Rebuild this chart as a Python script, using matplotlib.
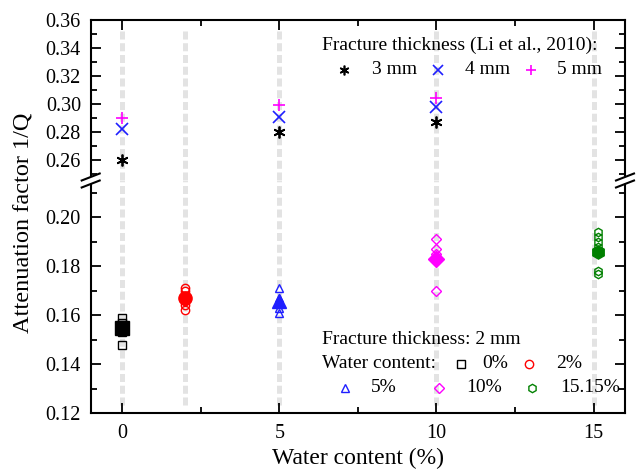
import matplotlib
matplotlib.use("Agg")
import matplotlib.pyplot as plt
from matplotlib.lines import Line2D
from matplotlib.patches import Polygon
from matplotlib.ticker import MultipleLocator
import numpy as np

plt.rcParams['font.family'] = ['Liberation Serif', 'DejaVu Serif']
plt.rcParams['mathtext.fontset'] = 'stix'

# ---------------- data ----------------
ref_x = [0, 5, 10]
ref_3mm = [0.260, 0.280, 0.287]
ref_4mm = [0.282, 0.291, 0.298]
ref_5mm = [0.290, 0.299, 0.304]

guide_x = [0, 2, 5, 10, 15]

wc_0_x = 0
wc_0 = [0.159, 0.157, 0.156, 0.153, 0.148]
wc_0_mean = 0.155
wc_2_x = 2
wc_2 = [0.171, 0.170, 0.168, 0.166, 0.164, 0.162]
wc_2_mean = 0.167
wc_5_x = 5
wc_5 = [0.171, 0.167, 0.165, 0.163, 0.161]
wc_5_mean = 0.166
wc_10_x = 10
wc_10 = [0.191, 0.187, 0.185, 0.183, 0.182, 0.170]
wc_10_mean = 0.183
wc_15_x = 15.15
wc_15 = [0.194, 0.192, 0.190, 0.188, 0.178, 0.177]
wc_15_mean = 0.186

xticks = [0, 5, 10, 15]

# ---------------- figure ----------------
W, H = 640, 476
fig = plt.figure(figsize=(6.4, 4.76), dpi=100)

def fx(px):
    return px / W

def fy(py):
    return 1 - py / H

left, right = 90.7, 625.0
top, brk, bottom = 20.0, 180.0, 413.3

ax_top = fig.add_axes([fx(left), fy(brk), fx(right - left), (brk - top) / H])
ax_bot = fig.add_axes([fx(left), fy(bottom), fx(right - left), (bottom - brk) / H])

ax_top.set_ylim(0.2457, 0.36)
ax_bot.set_ylim(0.12, 0.2152)
for ax in (ax_top, ax_bot):
    ax.set_xlim(-1.0, 16.0)
    ax.xaxis.set_major_locator(MultipleLocator(5))
    ax.xaxis.set_minor_locator(MultipleLocator(2.5))
    ax.yaxis.set_major_locator(MultipleLocator(0.02))
    ax.yaxis.set_minor_locator(MultipleLocator(0.01))
    ax.tick_params(which='both', direction='in', top=True, right=True,
                   width=1.3, labelsize=14.5)
    ax.tick_params(which='major', length=7)
    ax.tick_params(which='minor', length=4)
    ax.tick_params(axis='y', pad=7)
    for s in ax.spines.values():
        s.set_linewidth(1.5)
    ax.set_facecolor('none')

ax_top.spines['bottom'].set_visible(False)
ax_top.tick_params(which='both', bottom=False, labelbottom=False)
ax_bot.spines['top'].set_visible(False)
ax_bot.tick_params(which='both', top=False)
ax_top.yaxis.set_major_formatter(plt.FuncFormatter(lambda v, p: f"{v:.2f}"))
ax_bot.yaxis.set_major_formatter(plt.FuncFormatter(lambda v, p: f"{v:.2f}"))
ax_bot.set_xticks(xticks)
ax_bot.set_xticklabels([str(t) for t in xticks])
ax_bot.tick_params(axis='x', pad=8)

# guide dashed lines
gl = dict(color='#e3e3e3', lw=3.6, dashes=(1.6, 0.75), zorder=0, solid_capstyle='butt')
for gx in guide_x:
    ax_top.plot([gx, gx], [0.2457, 0.3545], **gl)
    ax_bot.plot([gx, gx], [0.1235, 0.2152], **gl)

# reference data
ax_top.plot(ref_x, ref_3mm, ls='none', marker=(6, 2, 0), ms=8.5, mew=1.3, color='black', zorder=3)
ax_top.plot(ref_x, ref_4mm, ls='none', marker='x', ms=8, mew=1.2, color='#1f1fff', zorder=3)
ax_top.plot(ref_x, ref_5mm, ls='none', marker='+', ms=8, mew=1.2, color='#ff00ff', zorder=3)

# measured data (hollow) and means (filled)
groups = [
    (wc_0_x, wc_0, wc_0_mean, 's', 'black'),
    (wc_2_x, wc_2, wc_2_mean, 'o', '#ff0000'),
    (wc_5_x, wc_5, wc_5_mean, '^', '#1f1fff'),
    (wc_10_x, wc_10, wc_10_mean, 'D', '#ff00ff'),
    (wc_15_x, wc_15, wc_15_mean, 'h', '#008000'),
]
for gx, vals, mean, mk, col in groups:
    ms = 6 if mk != 'D' else 5.5
    ax_bot.plot([gx] * len(vals), vals, ls='none', marker=mk, ms=ms, mfc='none',
                mec=col, mew=1.0, zorder=3)
    ax_bot.plot([gx], [mean], ls='none', marker=mk, ms=9.5 if mk != 'D' else 8.5,
                color=col, zorder=4)

# axis labels
fig.text(fx(358), fy(458), 'Water content (%)', ha='center', va='center', fontsize=17)
fig.text(fx(24), fy(223), 'Attenuation factor 1/Q', ha='center', va='center',
         rotation=90, fontsize=17.5)

# break marks
def break_mark(xc):
    gap = Polygon([[fx(xc - 9), fy(187)], [fx(xc + 9), fy(180)],
                   [fx(xc + 9), fy(173)], [fx(xc - 9), fy(180)]],
                  closed=True, transform=fig.transFigure, facecolor='white',
                  edgecolor='none', zorder=10)
    fig.add_artist(gap)
    for dy in (-3.5, 3.5):
        fig.add_artist(Line2D([fx(xc - 9), fx(xc + 9)],
                              [fy(184 + dy), fy(177 + dy)],
                              transform=fig.transFigure, color='black', lw=1.5,
                              zorder=11))

break_mark(left)
break_mark(right)

# legend 1
lt = dict(fontsize=14, ha='left', va='center')
fig.text(fx(322), fy(45), 'Fracture thickness (Li et al., 2010):', **lt)
leg1 = [(344, (6, 2, 0), 'black', '3 mm', 372),
        (438, 'x', '#1f1fff', '4 mm', 465),
        (531, '+', '#ff00ff', '5 mm', 557)]
for mx, mk, col, lab, tx in leg1:
    fig.add_artist(Line2D([fx(mx)], [fy(70)], transform=fig.transFigure, ls='none',
                          marker=mk, ms=7, mew=1.2, color=col))
    fig.text(fx(tx), fy(70), lab, **lt)

# legend 2
fig.text(fx(322), fy(340), 'Fracture thickness: 2 mm', **lt)
fig.text(fx(322), fy(364), 'Water content:', **lt)
leg2 = [(461, 364, 's', 'black', '0%', 482),
        (529, 364, 'o', '#ff0000', '2%', 556),
        (345, 388, '^', '#1f1fff', '5%', 371),
        (439, 388, 'D', '#ff00ff', '10%', 466),
        (532, 388, 'h', '#008000', '15.15%', 560)]
for mx, my, mk, col, lab, tx in leg2:
    fig.add_artist(Line2D([fx(mx)], [fy(my)], transform=fig.transFigure, ls='none',
                          marker=mk, ms=6 if mk != 'D' else 5.5, mfc='none', mec=col,
                          mew=1.0))
    fig.text(fx(tx), fy(my), lab, **lt)

fig.savefig('out.png', dpi=100)
